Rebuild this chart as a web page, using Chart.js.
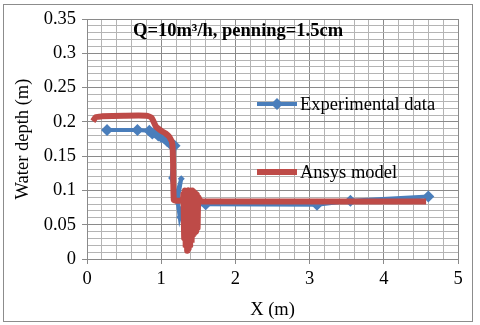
<!DOCTYPE html>
<html lang="en">
<head>
<meta charset="UTF-8">
<title>Water depth</title>
<style>
  body { margin: 0; background: #fff; }
  #wrap { position: relative; width: 480px; height: 325px; }
  #frame { position: absolute; left: 3px; top: 4px; width: 468px; height: 316px; border: 1px solid #8c8c8c; }
  canvas { position: absolute; left: 0; top: 0; }
  .lbl { position: absolute; font-family: "Liberation Serif", serif; font-size: 18.5px; color: #000; white-space: nowrap; line-height: 1; }
  #title { font-weight: bold; left: 133px; top: 21px; font-size: 18.5px; }
</style>
</head>
<body>
<div id="wrap">
  <div id="frame"></div>
  <canvas id="chart" width="480" height="325"></canvas>
  <div class="lbl" id="title">Q=10m³/h, penning=1.5cm</div>
  <div class="lbl" style="left:300px; top:95px;">Experimental data</div>
  <div class="lbl" style="left:300px; top:163px;">Ansys model</div>
</div>
<script src="https://cdn.jsdelivr.net/npm/chart.js"></script>
<script>
// Experimental data (blue, diamonds)
const expX = [0.27, 0.68, 0.84, 0.88, 0.92, 0.96, 1.0, 1.04, 1.08, 1.12, 1.18, 1.14, 1.2, 1.27, 1.22, 1.25, 1.3, 1.4, 1.6, 3.1, 3.55, 4.6];
const expY = [0.188, 0.188, 0.187, 0.183, 0.184, 0.18, 0.178, 0.176, 0.172, 0.168, 0.165, 0.118, 0.09, 0.117, 0.085, 0.061, 0.082, 0.08, 0.08, 0.079, 0.085, 0.091];

// Ansys model (red line)
const ansysX = [0.08, 0.12, 0.2, 0.5, 0.8, 0.87, 0.93, 1.0, 1.06, 1.11, 1.15, 1.16, 1.17, 1.2, 1.26, 1.29, 1.3, 1.31, 1.32, 1.33, 1.34, 1.35, 1.36, 1.37, 1.38, 1.39, 1.4, 1.41, 1.42, 1.43, 1.44, 1.45, 1.46, 1.47, 1.48, 1.49, 1.5, 1.52, 1.55, 2.5, 3.5, 4.57];
const ansysY = [0.201, 0.207, 0.208, 0.209, 0.209, 0.206, 0.193, 0.187, 0.183, 0.178, 0.168, 0.14, 0.086, 0.085, 0.085, 0.087, 0.095, 0.03, 0.1, 0.02, 0.098, 0.012, 0.1, 0.015, 0.098, 0.02, 0.1, 0.028, 0.1, 0.035, 0.098, 0.038, 0.096, 0.04, 0.094, 0.045, 0.09, 0.086, 0.084, 0.084, 0.084, 0.084];

// axes
const xMin = 0, xMax = 5, xMinor = 0.2;
const yMin = 0, yMax = 0.35, yMinor = 0.01, yMajor = 0.05;

const blue = '#4a7ebb';
const red = '#be4b48';

function pts(xs, ys) { return xs.map((x, i) => ({ x: x, y: ys[i] })); }
function isMult(v, step) { return Math.abs(v / step - Math.round(v / step)) < 1e-6; }

const font = { family: 'Liberation Serif', size: 18.5 };

// little legend keys drawn next to the html labels
const legendKeys = {
  id: 'legendKeys',
  afterDraw(chart) {
    const c = chart.ctx;
    c.save();
    c.lineCap = 'butt';
    c.strokeStyle = blue; c.lineWidth = 4;
    c.beginPath(); c.moveTo(257, 104); c.lineTo(297, 104); c.stroke();
    c.fillStyle = blue;
    c.beginPath(); c.moveTo(277, 98); c.lineTo(283, 104); c.lineTo(277, 110); c.lineTo(271, 104); c.closePath(); c.fill();
    c.strokeStyle = red; c.lineWidth = 6;
    c.beginPath(); c.moveTo(257, 172); c.lineTo(297, 172); c.stroke();
    c.restore();
  }
};

new Chart(document.getElementById('chart'), {
  type: 'scatter',
  data: {
    datasets: [
      {
        label: 'Experimental data',
        data: pts(expX, expY),
        showLine: true,
        borderColor: blue,
        backgroundColor: blue,
        borderWidth: 4,
        pointStyle: 'rectRot',
        // markers in the jump look smaller in the original
        pointRadius: ctx => (ctx.raw && ctx.raw.x > 1.13 && ctx.raw.x < 1.35 && ctx.raw.y < 0.16) ? 3.5 : 6,
        pointBorderWidth: 0,
        order: 1
      },
      {
        label: 'Ansys model',
        data: pts(ansysX, ansysY),
        showLine: true,
        borderColor: red,
        backgroundColor: red,
        borderWidth: 6,
        pointRadius: 0,
        tension: 0.2,
        order: 0
      }
    ]
  },
  options: {
    responsive: false,
    animation: false,
    layout: { padding: { left: 12, right: 22, top: 19, bottom: 4 } },
    plugins: { legend: { display: false }, tooltip: { enabled: false } },
    scales: {
      x: {
        type: 'linear', min: xMin, max: xMax,
        afterFit(s) { s.height = 62; },
        ticks: {
          stepSize: xMinor, color: '#000', font: font, maxRotation: 0, autoSkip: false, padding: 4,
          callback: v => isMult(v, 1) ? Math.round(v).toString() : ''
        },
        grid: {
          color: ctx => isMult(ctx.tick.value, 1) ? '#8a8a8a' : '#b4b4b4',
          tickColor: ctx => isMult(ctx.tick.value, 1) ? '#8a8a8a' : 'rgba(0,0,0,0)',
          tickLength: 5, lineWidth: 1
        },
        border: { color: '#8a8a8a' },
        title: { display: true, text: 'X (m)', color: '#000', font: font, padding: { top: 2, bottom: 0 } }
      },
      y: {
        type: 'linear', min: yMin, max: yMax,
        afterFit(s) { s.width = 75; },
        ticks: {
          stepSize: yMinor, color: '#000', font: font, autoSkip: false, padding: 6,
          callback: v => isMult(v, yMajor) ? parseFloat(v.toFixed(2)).toString() : ''
        },
        grid: {
          color: ctx => isMult(ctx.tick.value, yMajor) ? '#8a8a8a' : '#b4b4b4',
          tickColor: ctx => isMult(ctx.tick.value, yMajor) ? '#8a8a8a' : 'rgba(0,0,0,0)',
          tickLength: 5, lineWidth: 1
        },
        border: { color: '#8a8a8a' },
        title: { display: true, text: 'Water depth (m)', color: '#000', font: font, padding: { top: 0, bottom: 2 } }
      }
    }
  },
  plugins: [legendKeys]
});
</script>
</body>
</html>
